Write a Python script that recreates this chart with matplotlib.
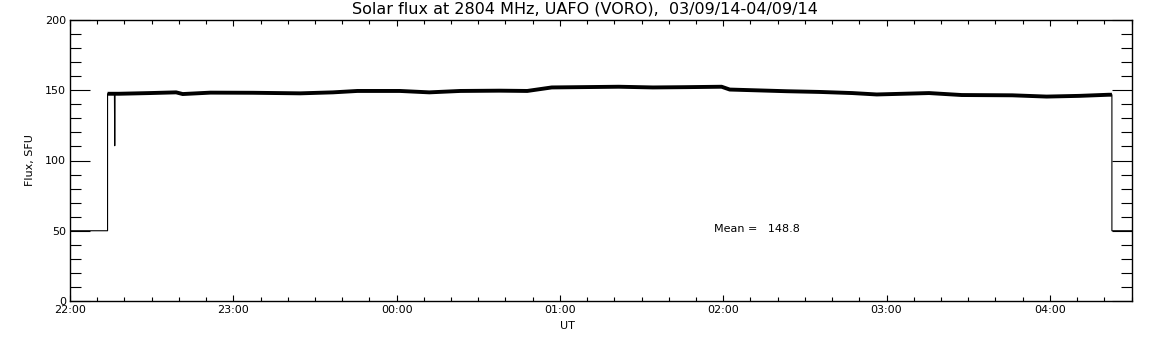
import matplotlib.pyplot as plt
from matplotlib.ticker import MultipleLocator

# time in hours since 22:00 UT, flux in SFU
hours = [0.0, 0.23, 0.23, 0.26, 0.272, 0.274, 0.276, 0.30, 0.49, 0.65, 0.69, 0.86,
         1.12, 1.41, 1.61, 1.76, 2.02, 2.20, 2.39, 2.63, 2.80, 2.95, 3.20, 3.36,
         3.57, 3.77, 3.99, 4.04, 4.39, 4.59, 4.79, 4.94, 5.26, 5.46, 5.77, 5.98,
         6.18, 6.36, 6.38, 6.38, 6.5]
flux = [50, 50, 147.5, 148, 148, 110.5, 148, 147.5, 148, 148.5, 147.3, 148.3,
        148.2, 147.8, 148.5, 149.5, 149.5, 148.5, 149.5, 149.7, 149.5, 152, 152.3, 152.5,
        152, 152.2, 152.5, 150.5, 149.3, 148.8, 148, 147, 148, 146.6, 146.4, 145.5,
        146, 146.8, 146.8, 50, 50]
band_start, band_end = 2, 39  # indices of the noisy on-sun part

tick_hours = [0, 1, 2, 3, 4, 5, 6]
tick_labels = ['22:00', '23:00', '00:00', '01:00', '02:00', '03:00', '04:00']
mean_text = 'Mean =   148.8'

fig = plt.figure(figsize=(11.52, 3.45), dpi=100)
ax = fig.add_axes([70 / 1152, 44 / 345, 1061.5 / 1152, 281 / 345])

ax.plot(hours, flux, color='black', linewidth=0.8)
ax.plot(hours[band_start:3] + hours[7:band_end], flux[band_start:3] + flux[7:band_end],
        color='black', linewidth=2.8, solid_capstyle='butt')

ax.set_xlim(0, 6.5)
ax.set_ylim(0, 200)
ax.set_xticks(tick_hours)
ax.set_xticklabels(tick_labels)
ax.xaxis.set_minor_locator(MultipleLocator(1 / 6))
ax.set_yticks([0, 50, 100, 150, 200])
ax.yaxis.set_minor_locator(MultipleLocator(10))

for s in ax.spines.values():
    s.set_linewidth(1.0)
ax.tick_params(axis='both', which='both', direction='in', top=True, right=True,
               labelsize=8, width=0.8, pad=3)
ax.tick_params(axis='y', which='major', length=14.4)
ax.tick_params(axis='y', which='minor', length=7.9)
ax.tick_params(axis='x', which='major', length=4.5)
ax.tick_params(axis='x', which='minor', length=2.9)

ax.set_ylabel('Flux, SFU', fontsize=8, labelpad=7)
fig.text(567 / 1152, 1 - 326 / 345, 'UT', fontsize=8, ha='center', va='center')
fig.text(585 / 1152, 1 - 9 / 345,
         'Solar flux at 2804 MHz, UAFO (VORO),  03/09/14-04/09/14',
         fontsize=11.5, ha='center', va='center')
ax.text(3.945, 51, mean_text, fontsize=8, ha='left', va='center')

fig.savefig('out.png', dpi=100, facecolor='white')
